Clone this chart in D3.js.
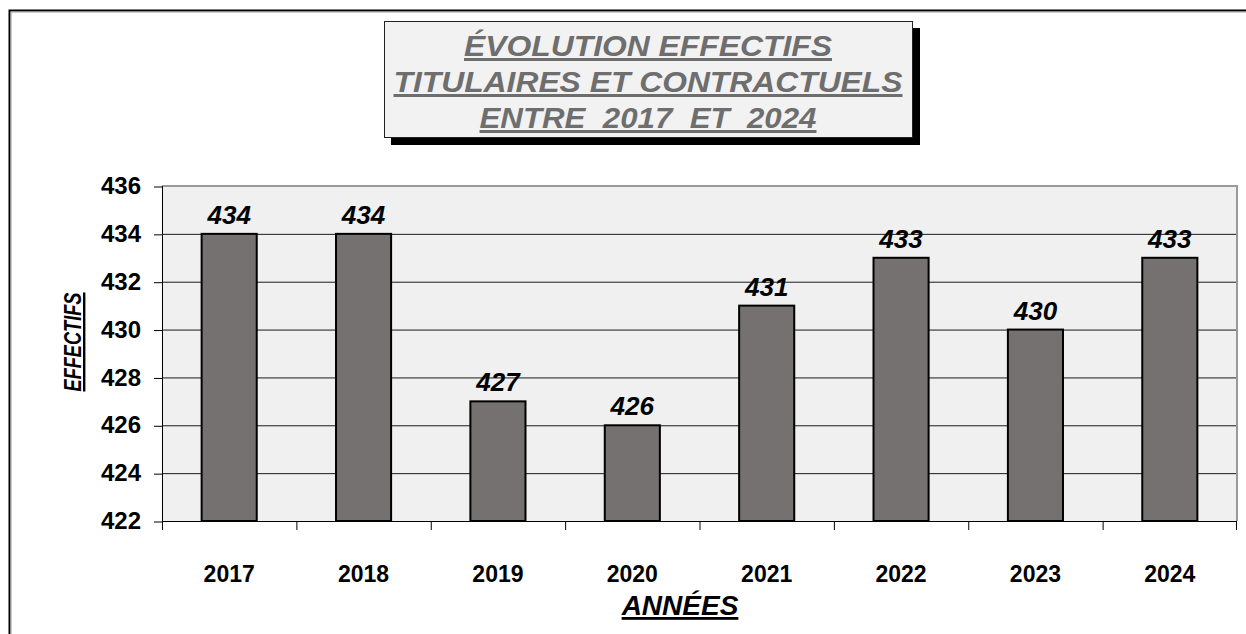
<!DOCTYPE html>
<html>
<head>
<meta charset="utf-8">
<script src="https://cdn.jsdelivr.net/npm/d3@7"></script>
<style>
  body { margin: 0; background: #fff; }
  text { font-family: "Liberation Sans", Arial, sans-serif; }
</style>
</head>
<body>
<div id="chart_area"></div>
<script>
// data
const years = ["2017", "2018", "2019", "2020", "2021", "2022", "2023", "2024"];
const effectifs = [434, 434, 427, 426, 431, 433, 430, 433];
const yTicks = [422, 424, 426, 428, 430, 432, 434, 436];
const titleLines = ["ÉVOLUTION EFFECTIFS", "TITULAIRES ET CONTRACTUELS", "ENTRE  2017  ET  2024"];

// set the dimensions and margins of the graph
var margin = {top: 186, right: 9, bottom: 113, left: 162},
    width = 1246 - margin.left - margin.right,
    height = 634 - margin.top - margin.bottom;

const svg = d3.select("#chart_area")
.append("svg")
.attr("width", 1246)
.attr("height", 634);

// outer frame
svg.append("rect")
.attr("x", 9.5).attr("y", 10.5)
.attr("width", 1300).attr("height", 700)
.attr("fill", "#fff")
.attr("stroke", "#000")
.attr("stroke-width", 2);
svg.append("rect")
.attr("x", 11).attr("y", 12)
.attr("width", 1300).attr("height", 700)
.attr("fill", "none")
.attr("stroke", "#999")
.attr("stroke-width", 1);

const g = svg.append("g")
.attr("transform", `translate(${margin.left}, ${margin.top})`);

// X scale
const x = d3.scaleBand()
.domain(years)
.range([0, width])
.padding(0);

// Y scale
const y = d3.scaleLinear()
.domain([422, 436])
.range([height, 0]);

// plot background
g.append("rect")
.attr("width", width)
.attr("height", height)
.attr("fill", "#f0f0f0");

// grid lines
g.append("g")
.selectAll("line")
.data(yTicks.slice(1, -1))
.join("line")
.attr("x1", 0).attr("x2", width)
.attr("y1", d => y(d) + 0.5).attr("y2", d => y(d) + 0.5)
.attr("stroke", "#1a1a1a")
.attr("stroke-width", 1);

// top and right border
g.append("path")
.attr("d", `M0,${y(436)} H${width} V${height}`)
.attr("fill", "none")
.attr("stroke", "#9a9a9a")
.attr("stroke-width", 2);

// Y axis
const yAxis = g.append("g")
.call(d3.axisLeft(y).tickValues(yTicks).tickSize(8).tickPadding(13).tickSizeOuter(0));
yAxis.select(".domain").remove();
yAxis.selectAll("line").attr("stroke", "#000").attr("transform", "translate(0,0.5)");
yAxis.selectAll("text")
.attr("font-size", 24)
.attr("font-weight", "bold")
.attr("fill", "#000")
.attr("font-family", "Liberation Sans, Arial, sans-serif");
g.append("line")
.attr("x1", 0.5).attr("x2", 0.5)
.attr("y1", 0).attr("y2", height + 9)
.attr("stroke", "#000");

// X axis (ticks at category boundaries)
g.append("line")
.attr("x1", 0).attr("x2", width)
.attr("y1", height + 0.5).attr("y2", height + 0.5)
.attr("stroke", "#000");
g.append("g")
.selectAll("line")
.data(years.slice(1).concat(["end"]))
.join("line")
.attr("x1", (d, i) => i < years.length - 1 ? x(d) + 0.5 : width - 0.5)
.attr("x2", (d, i) => i < years.length - 1 ? x(d) + 0.5 : width - 0.5)
.attr("y1", height).attr("y2", height + 9)
.attr("stroke", "#000");

g.append("g")
.selectAll("text")
.data(years)
.join("text")
.attr("x", d => x(d) + x.bandwidth() / 2)
.attr("y", height + 61)
.attr("text-anchor", "middle")
.attr("font-size", 23)
.attr("font-weight", "bold")
.text(d => d);

// bars
const barW = x.bandwidth() * 0.41;
g.append("g")
.selectAll("rect")
.data(effectifs)
.join("rect")
.attr("x", (d, i) => x(years[i]) + (x.bandwidth() - barW) / 2)
.attr("y", d => y(d))
.attr("width", barW)
.attr("height", d => height - y(d))
.attr("fill", "#757170")
.attr("stroke", "#000")
.attr("stroke-width", 2);

// value labels
g.append("g")
.selectAll("text")
.data(effectifs)
.join("text")
.attr("x", (d, i) => x(years[i]) + x.bandwidth() / 2)
.attr("y", d => y(d) - 10)
.attr("text-anchor", "middle")
.attr("font-size", 26)
.attr("font-weight", "bold")
.attr("font-style", "italic")
.text(d => d);

// axis titles
svg.append("text")
.attr("x", 680)
.attr("y", 615)
.attr("text-anchor", "middle")
.attr("font-size", 28)
.attr("font-weight", "bold")
.attr("font-style", "italic")
.attr("text-decoration", "underline")
.text("ANNÉES");

svg.append("text")
.attr("transform", "translate(81, 342) rotate(-90)")
.attr("text-anchor", "middle")
.attr("font-size", 24)
.attr("font-weight", "bold")
.attr("font-style", "italic")
.attr("text-decoration", "underline")
.attr("textLength", 99)
.attr("lengthAdjust", "spacingAndGlyphs")
.text("EFFECTIFS");

// title box with shadow
svg.append("rect")
.attr("x", 391).attr("y", 28)
.attr("width", 529).attr("height", 117)
.attr("fill", "#000");
svg.append("rect")
.attr("x", 384.5).attr("y", 21.5)
.attr("width", 528).attr("height", 116)
.attr("fill", "#f2f2f2")
.attr("stroke", "#222")
.attr("stroke-width", 1);

const titleWidths = [368, 509, 337];
svg.append("g")
.selectAll("text")
.data(titleLines)
.join("text")
.attr("x", 648)
.attr("y", (d, i) => 56 + i * 36)
.attr("text-anchor", "middle")
.attr("font-size", 30)
.attr("font-weight", "bold")
.attr("font-style", "italic")
.attr("text-decoration", "underline")
.attr("fill", "#6e6e6e")
.attr("textLength", (d, i) => titleWidths[i])
.attr("lengthAdjust", "spacingAndGlyphs")
.style("white-space", "pre")
.text(d => d);
</script>
</body>
</html>
